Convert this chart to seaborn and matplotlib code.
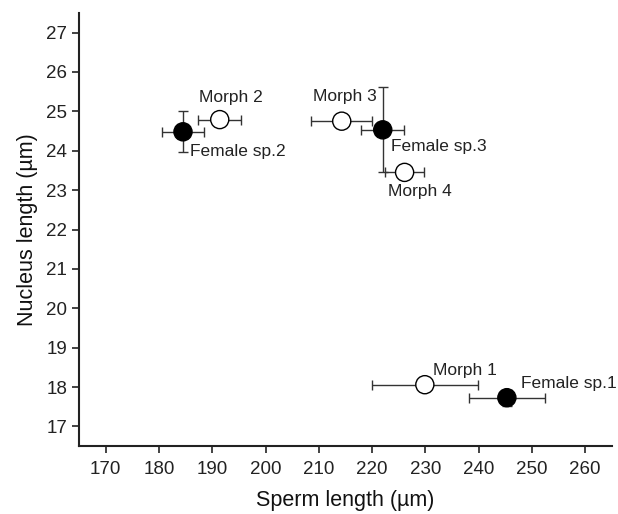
import matplotlib
matplotlib.use("Agg")
import matplotlib.pyplot as plt
import seaborn as sns
import pandas as pd

names = ["Female sp.2", "Morph 2", "Morph 3", "Female sp.3", "Morph 4", "Morph 1", "Female sp.1"]
sperm = [184.5, 191.4, 214.3, 222.0, 226.1, 229.9, 245.3]
sperm_err = [3.9, 4.0, 5.7, 4.0, 3.6, 10.0, 7.2]
nucleus = [24.48, 24.79, 24.75, 24.53, 23.45, 18.06, 17.73]
nucleus_err = [0.52, 0.0, 0.0, 1.08, 0.0, 0.0, 0.2]
group = ["Female", "Morph", "Morph", "Female", "Morph", "Morph", "Female"]
# label offsets (points)
label_dx = [5, -15, -21, 6, -12, 6, 10]
label_dy = [-14, 16, 18, -12, -14, 10, 10]

xticks = list(range(170, 261, 10))
yticks = list(range(17, 28))

df = pd.DataFrame({"name": names, "sperm": sperm, "nucleus": nucleus,
                   "sx": sperm_err, "sy": nucleus_err, "group": group})

sns.set_theme(style="ticks")
plt.rcParams["font.family"] = ["Liberation Sans", "DejaVu Sans"]

fig = plt.figure(figsize=(6.18, 5.14), dpi=100)
ax = fig.add_axes([0.128, 0.132, 0.862, 0.843])

ax.errorbar(df["sperm"], df["nucleus"], xerr=df["sx"], yerr=df["sy"], fmt="none",
            ecolor="#333333", elinewidth=1.0, capsize=3.5, capthick=1.0, zorder=2)
sns.scatterplot(data=df, x="sperm", y="nucleus", hue="group",
                palette={"Female": "black", "Morph": "white"},
                edgecolor="black", linewidth=1.0, s=170, legend=False, ax=ax, zorder=3)

for n, x, y, dx, dy in zip(names, sperm, nucleus, label_dx, label_dy):
    ax.annotate(n, (x, y), xytext=(dx, dy), textcoords="offset points",
                ha="left", va="center", fontsize=12.5, color="#222222")

ax.set_xlim(165, 265)
ax.set_ylim(16.5, 27.5)
ax.set_xticks(xticks)
ax.set_yticks(yticks)
ax.tick_params(axis="both", labelsize=13.5, length=5, width=1.2, color="#222222",
               labelcolor="#222222", direction="out")
ax.tick_params(axis="x", pad=6)
for s in ["top", "right"]:
    ax.spines[s].set_visible(False)
for s in ["left", "bottom"]:
    ax.spines[s].set_linewidth(1.5)
    ax.spines[s].set_color("#222222")

ax.set_xlabel("Sperm length (µm)", fontsize=15.5, color="#111111", labelpad=8)
ax.set_ylabel("Nucleus length (µm)", fontsize=15.5, color="#111111", labelpad=6)

fig.savefig("out.png", dpi=100, facecolor="white")
